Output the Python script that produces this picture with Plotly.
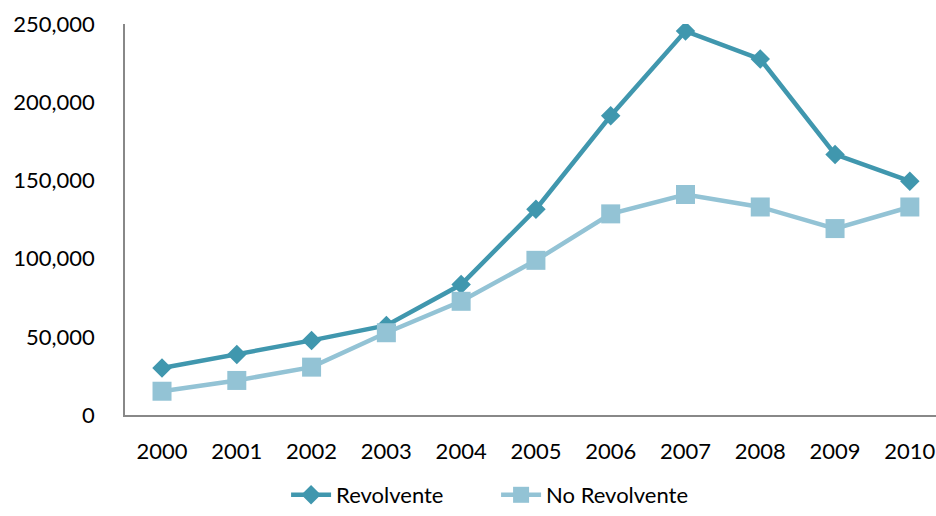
import plotly.graph_objects as go

years = ["2000", "2001", "2002", "2003", "2004", "2005",
         "2006", "2007", "2008", "2009", "2010"]
revolvente = [30000, 38700, 47700, 57300, 83400, 131600,
              191300, 245500, 227600, 166600, 149500]
no_revolvente = [15200, 22100, 30600, 52600, 72700, 98900,
                 128600, 141000, 133000, 119200, 133000]
y_ticks = [0, 50000, 100000, 150000, 200000, 250000]

FONT = "Lato, 'Open Sans', sans-serif"

fig = go.Figure()
fig.add_trace(go.Scatter(
    x=years, y=revolvente, name="Revolvente", mode="lines+markers",
    line=dict(color="#4097AE", width=4.5),
    marker=dict(symbol="diamond", size=15, color="#4097AE"),
))
fig.add_trace(go.Scatter(
    x=years, y=no_revolvente, name="No Revolvente", mode="lines+markers",
    line=dict(color="#93C3D5", width=4.5),
    marker=dict(symbol="square", size=19, color="#93C3D5"),
))

fig.update_layout(
    width=936, height=516,
    margin=dict(l=125, r=0, t=24, b=101, autoexpand=False),
    paper_bgcolor="white", plot_bgcolor="white",
    font=dict(family=FONT, size=22, color="#000000"),
    showlegend=True,
    legend=dict(orientation="h", x=0.53, xanchor="center", xref="container",
                y=0.0, yanchor="bottom", yref="container",
                font=dict(family=FONT, size=22, color="#000000"),
                itemwidth=40, entrywidth=155, tracegroupgap=0),
)
fig.update_xaxes(
    type="category", range=[-0.495, 10.35],
    showline=True, linecolor="#888888", linewidth=1.5,
    showgrid=False, ticks="", ticklabelstandoff=16,
    tickfont=dict(family=FONT, size=22),
)
fig.update_yaxes(
    range=[0, 250000], tickvals=y_ticks, tickformat=",",
    showline=True, linecolor="#888888", linewidth=1.5,
    showgrid=False, ticks="", ticklabelstandoff=24, zeroline=False,
    tickfont=dict(family=FONT, size=22),
)

fig.write_html("out.html")
